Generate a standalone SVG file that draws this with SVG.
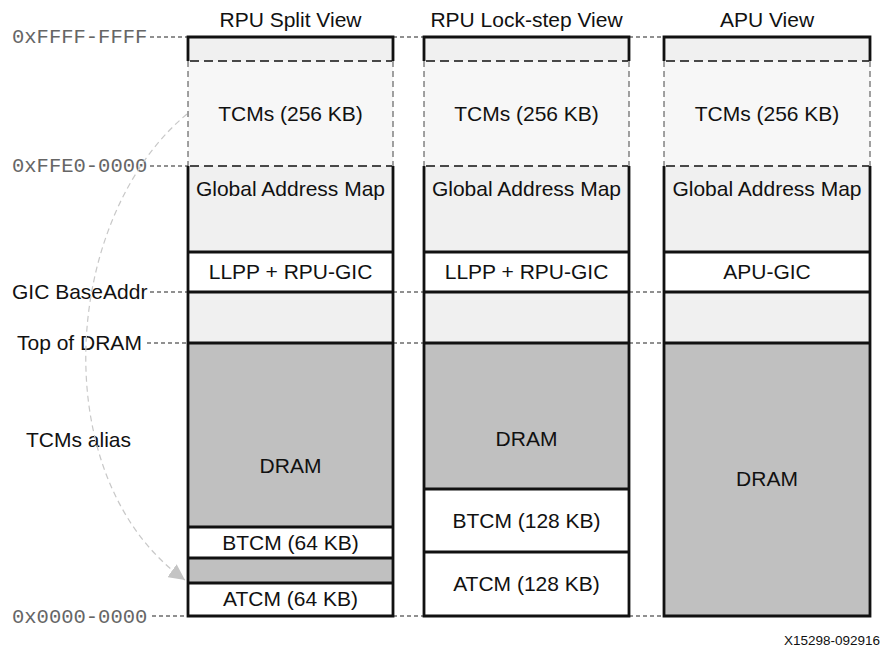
<svg xmlns="http://www.w3.org/2000/svg" width="884" height="652" viewBox="0 0 884 652">
<defs>
<style>
.t{font-family:"Liberation Sans",Arial,sans-serif;font-size:21px;fill:#111;text-anchor:middle}
.l{font-family:"Liberation Sans",Arial,sans-serif;font-size:21px;fill:#111}
.m{font-family:"Liberation Mono","Courier New",monospace;font-size:20.5px;fill:#666}
.lead{stroke:#222;stroke-width:1.2;stroke-dasharray:4 3;fill:none}
.sep{stroke:#111;stroke-width:1.5;stroke-dasharray:9 5;fill:none}
.side{stroke:#444;stroke-width:1;stroke-dasharray:6 4;fill:none}
.thick{stroke:#111;stroke-width:2.8;fill:none}
.g1{fill:#f0f0f0}.g0{fill:#f7f7f7}.dr{fill:#c0c0c0}.w{fill:#fff}
</style>
<marker id="ah" viewBox="0 0 10 10" refX="10" refY="5" markerWidth="16" markerHeight="16" markerUnits="userSpaceOnUse" orient="auto">
<path d="M0,0 L10,5 L0,10 z" fill="#c4c4c4"/>
</marker>
</defs>
<rect width="884" height="652" fill="#fff"/>

<g id="titles">
<text class="t" x="290.5" y="27">RPU Split View</text>
<text class="t" x="526.5" y="27">RPU Lock-step View</text>
<text class="t" x="767" y="27">APU View</text>
</g>

<g id="labels">
<text class="m" x="12" y="43">0xFFFF-FFFF</text>
<text class="m" x="12" y="172">0xFFE0-0000</text>
<text class="l" x="12" y="299">GIC BaseAddr</text>
<text class="l" x="17" y="350">Top of DRAM</text>
<text class="l" x="26" y="447">TCMs alias</text>
<text class="m" x="12" y="623">0x0000-0000</text>
<text x="880" y="645" style="font-family:'Liberation Sans',Arial,sans-serif;font-size:13.5px;fill:#111;text-anchor:end">X15298-092916</text>
</g>

<g id="connectors">
<path class="lead" d="M150,37 H188 M393,37 H424 M629,37 H664"/>
<path class="lead" d="M150,166 H188"/>
<path class="lead" d="M150,292 H188 M393,292 H424 M629,292 H664"/>
<path class="lead" d="M147,343 H188 M393,343 H424 M629,343 H664"/>
<path class="lead" d="M152,616 H188 M393,616 H424 M629,616 H664"/>
<path d="M187,114 C 60,220 45,480 185,580" fill="none" stroke="#c8c8c8" stroke-width="1.2" stroke-dasharray="6 4" marker-end="url(#ah)"/>
</g>

<g id="col-split">
<rect class="g1" x="188" y="37" width="205" height="24"/>
<rect class="g0" x="188" y="61" width="205" height="105"/>
<rect class="g1" x="188" y="166" width="205" height="86"/>
<rect class="w" x="188" y="252" width="205" height="40"/>
<rect class="g1" x="188" y="292" width="205" height="51"/>
<rect class="dr" x="188" y="343" width="205" height="184"/>
<rect class="w" x="188" y="527" width="205" height="31"/>
<rect class="dr" x="188" y="558" width="205" height="25"/>
<rect class="w" x="188" y="583" width="205" height="33"/>
<path class="sep" d="M190,61 H392 M190,166 H392"/>
<path class="side" d="M188,61 V166 M393,61 V166"/>
<path class="thick" d="M188,61 V37 H393 V61 M188,166 V616 H393 V166 M188,252 H393 M188,292 H393 M188,343 H393 M188,527 H393 M188,558 H393 M188,583 H393"/>
<text class="t" x="290.5" y="121">TCMs (256 KB)</text>
<text class="t" x="290.5" y="196">Global Address Map</text>
<text class="t" x="290.5" y="279">LLPP + RPU-GIC</text>
<text class="t" x="290.5" y="473">DRAM</text>
<text class="t" x="290.5" y="550">BTCM (64 KB)</text>
<text class="t" x="290.5" y="606">ATCM (64 KB)</text>
</g>

<g id="col-lockstep">
<rect class="g1" x="424" y="37" width="205" height="24"/>
<rect class="g0" x="424" y="61" width="205" height="105"/>
<rect class="g1" x="424" y="166" width="205" height="86"/>
<rect class="w" x="424" y="252" width="205" height="40"/>
<rect class="g1" x="424" y="292" width="205" height="51"/>
<rect class="dr" x="424" y="343" width="205" height="146"/>
<rect class="w" x="424" y="489" width="205" height="127"/>
<path class="sep" d="M426,61 H628 M426,166 H628"/>
<path class="side" d="M424,61 V166 M629,61 V166"/>
<path class="thick" d="M424,61 V37 H629 V61 M424,166 V616 H629 V166 M424,252 H629 M424,292 H629 M424,343 H629 M424,489 H629 M424,552 H629"/>
<text class="t" x="526.5" y="121">TCMs (256 KB)</text>
<text class="t" x="526.5" y="196">Global Address Map</text>
<text class="t" x="526.5" y="279">LLPP + RPU-GIC</text>
<text class="t" x="526.5" y="446">DRAM</text>
<text class="t" x="526.5" y="528">BTCM (128 KB)</text>
<text class="t" x="526.5" y="591">ATCM (128 KB)</text>
</g>

<g id="col-apu">
<rect class="g1" x="664" y="37" width="206" height="24"/>
<rect class="g0" x="664" y="61" width="206" height="105"/>
<rect class="g1" x="664" y="166" width="206" height="86"/>
<rect class="w" x="664" y="252" width="206" height="40"/>
<rect class="g1" x="664" y="292" width="206" height="51"/>
<rect class="dr" x="664" y="343" width="206" height="273"/>
<path class="sep" d="M666,61 H869 M666,166 H869"/>
<path class="side" d="M664,61 V166 M870,61 V166"/>
<path class="thick" d="M664,61 V37 H870 V61 M664,166 V616 H870 V166 M664,252 H870 M664,292 H870 M664,343 H870"/>
<text class="t" x="767" y="121">TCMs (256 KB)</text>
<text class="t" x="767" y="196">Global Address Map</text>
<text class="t" x="767" y="279">APU-GIC</text>
<text class="t" x="767" y="486">DRAM</text>
</g>
</svg>
